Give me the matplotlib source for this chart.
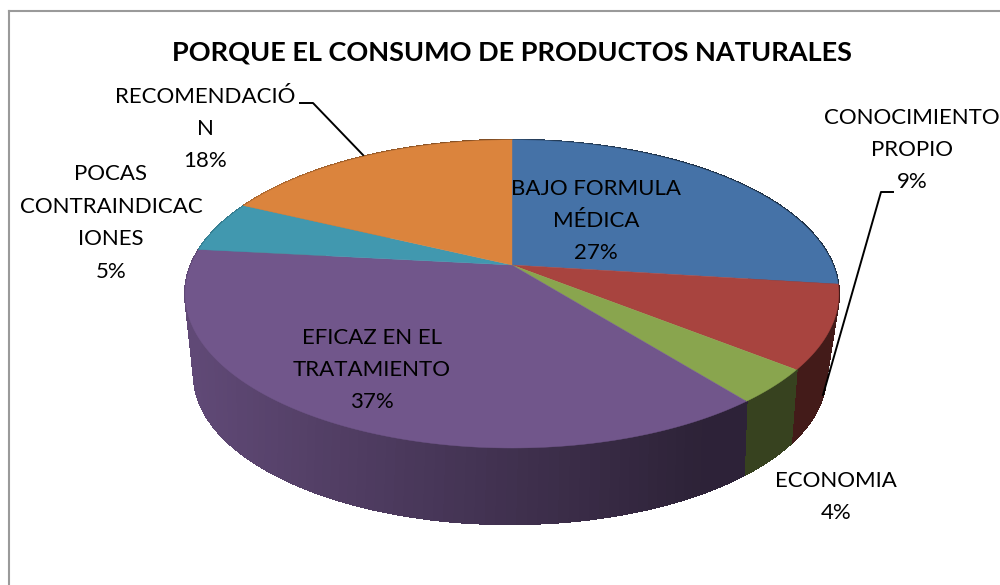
import numpy as np
import matplotlib
matplotlib.use("Agg")
import matplotlib.pyplot as plt
from matplotlib.collections import PolyCollection

# slice shares (the printed labels are the rounded ones)
categories = ["BAJO FORMULA\nMÉDICA", "CONOCIMIENTO\nPROPIO", "ECONOMIA",
              "EFICAZ EN EL\nTRATAMIENTO", "POCAS\nCONTRAINDICAC\nIONES", "RECOMENDACIÓ\nN"]
shares = [27.0, 8.7, 3.6, 37.4, 5.4, 17.9]
labels_pct = ["27%", "9%", "4%", "37%", "5%", "18%"]
colors = ["#4572A7", "#A8443F", "#89A54E", "#71568B", "#4198AF", "#DB843D"]
label_pos = [(596, 221), (912, 150), (836, 497), (372, 370), (111, 223), (205, 129)]

plt.rcParams["font.family"] = ["Lato", "DejaVu Sans"]

fig = plt.figure(figsize=(10, 5.85), dpi=100)
ax = fig.add_axes([0, 0, 1, 1])
ax.set_xlim(0, 1000)
ax.set_ylim(585, 0)
ax.axis("off")


def rim(t, cx, cy, a, b, k):
    # circle seen in perspective, t in radians clockwise from the top
    u, v = np.sin(t), np.cos(t)
    w = 1 + k * v
    return cx + a * u / w, cy - b * v / w


top = dict(cx=512, cy=265, a=321, b=148.6, k=0.188)
bottom = dict(cx=510, cy=340.8, a=307.5, b=141.1, k=0.23)

edges = np.concatenate([[0], np.cumsum(shares)]) / np.sum(shares) * 2 * np.pi


def shade(x):
    return np.clip(0.85 - (x - 190) * 0.45 / 510, 0.4, 0.85)


# side wall first, made of thin strips so it gets the dark gradient
for i, c in enumerate(colors):
    base = np.array(matplotlib.colors.to_rgb(c))
    t = np.linspace(edges[i], edges[i + 1], 90)
    x1, y1 = rim(t, **top)
    x2, y2 = rim(t, **bottom)
    polys = []
    cols = []
    for j in range(len(t) - 1):
        polys.append([(x1[j], y1[j]), (x1[j + 1], y1[j + 1]), (x2[j + 1], y2[j + 1]), (x2[j], y2[j])])
        cols.append(base * shade((x1[j] + x1[j + 1]) / 2))
    ax.add_collection(PolyCollection(polys, facecolors=cols, edgecolors=cols, linewidths=1.0,
                                     antialiaseds=False, zorder=2))

# top face
for i, c in enumerate(colors):
    t = np.linspace(edges[i], edges[i + 1], 120)
    x, y = rim(t, **top)
    ax.fill(np.r_[top["cx"], x], np.r_[top["cy"], y], color=c, lw=0.3, zorder=3)

# leader lines
ax.plot([300, 313, 363], [103, 103, 155], color="black", lw=1.4, zorder=4)
ax.plot([893, 881, 823], [192, 192, 395], color="black", lw=1.4, zorder=4)

# frame runs off the right and bottom of the picture
ax.plot([9, 9], [590, 11], color="#9a9a9a", lw=1.5, zorder=1)
ax.plot([9, 1005], [11, 11], color="#9a9a9a", lw=1.5, zorder=1)

ax.text(512, 53, "PORQUE EL CONSUMO DE PRODUCTOS NATURALES", ha="center", va="center",
        fontsize=19.5, fontweight="bold", color="black", zorder=5)

for name, pct, pos in zip(categories, labels_pct, label_pos):
    ax.text(pos[0], pos[1], name + "\n" + pct, ha="center", va="center", multialignment="center",
            fontsize=16, color="black", linespacing=1.78, zorder=5)

fig.savefig("out.png", dpi=100)
